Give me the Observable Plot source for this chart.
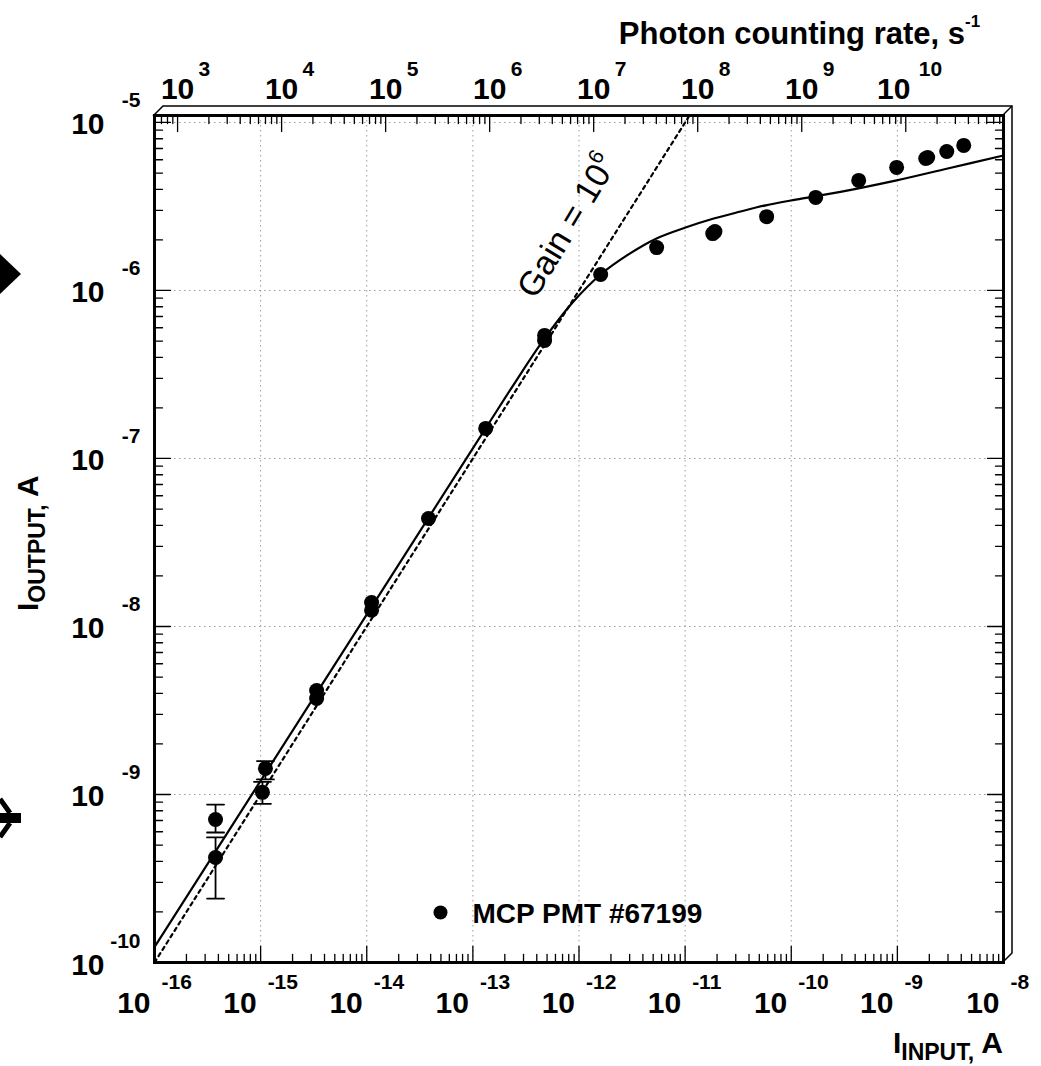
<!DOCTYPE html>
<html>
<head>
<meta charset="utf-8">
<script src="https://cdn.jsdelivr.net/npm/d3@7"></script>
<script src="https://cdn.jsdelivr.net/npm/@observablehq/plot@0.6"></script>
<style>
  html, body { margin: 0; padding: 0; background: #fff; }
  svg { display: block; }
</style>
</head>
<body>
<div id="chart"></div>
<script>
// ---------------- data ----------------
const inputCurrent  = [3.76e-16, 3.76e-16, 1.11e-15, 1.04e-15, 3.37e-15, 3.37e-15, 1.11e-14, 1.11e-14,
                       3.82e-14, 1.32e-13, 4.74e-13, 4.74e-13, 1.60e-12, 5.39e-12, 1.82e-11, 1.91e-11,
                       5.86e-11, 1.70e-10, 4.32e-10, 9.84e-10, 1.85e-9, 1.93e-9, 2.92e-9, 4.22e-9];
const outputCurrent = [7.1e-10, 4.22e-10, 1.43e-9, 1.03e-9, 4.16e-9, 3.73e-9, 1.39e-8, 1.25e-8,
                       4.39e-8, 1.51e-7, 5.4e-7, 5.04e-7, 1.245e-6, 1.80e-6, 2.18e-6, 2.24e-6,
                       2.75e-6, 3.58e-6, 4.52e-6, 5.4e-6, 6.1e-6, 6.19e-6, 6.72e-6, 7.3e-6];
const errorLow  = [5.94e-10, 2.40e-10, 1.23e-9, 8.8e-10];
const errorHigh = [8.71e-10, 5.55e-10, 1.58e-9, 1.19e-9];

const fitInput  = [1.02e-16, 3.67e-15, 1.318e-13, 2.53e-13, 4.74e-13, 8.70e-13, 1.60e-12, 2.93e-12,
                   5.38e-12, 1.01e-11, 1.86e-11, 3.33e-11, 5.74e-11, 9.87e-11, 1.66e-10, 4.42e-10,
                   9.84e-10, 2.98e-9, 1.0e-8];
const fitOutput = [1.26e-10, 4.37e-9, 1.51e-7, 2.87e-7, 5.18e-7, 8.48e-7, 1.245e-6, 1.64e-6,
                   2.04e-6, 2.37e-6, 2.68e-6, 2.95e-6, 3.21e-6, 3.43e-6, 3.63e-6, 4.07e-6,
                   4.52e-6, 5.32e-6, 6.36e-6];

const gainInput  = [1e-16, 1.1e-11];   // Gain = 10^6 reference line
const gainOutput = [1e-10, 1.1e-5];
const gainLabelAt = [7.7e-13, 2.42e-6];

const xExponents    = [-16, -15, -14, -13, -12, -11, -10, -9, -8];
const yExponents    = [-10, -9, -8, -7, -6, -5];
const rateExponents = [3, 4, 5, 6, 7, 8, 9, 10];
const rateDomain = [600, 8.7e10];      // photon counting rate spanned by the top axis, s^-1
const legendLabel = "MCP PMT #67199";

// ---------------- derived tables ----------------
const points = inputCurrent.map((x, i) => ({x, y: outputCurrent[i]}));
const errs = errorLow.map((lo, i) => ({x: inputCurrent[i], lo, hi: errorHigh[i]}));
const fit = fitInput.map((x, i) => ({x, y: fitOutput[i]}));
const gain = gainInput.map((x, i) => ({x, y: gainOutput[i]}));

const xDomain = [1e-16, 1e-8];
const yDomain = [1e-10, 1.1e-5];
const lg = Math.log10;
// secondary (top) axis: rate mapped onto the x scale's domain (log-linear)
const rateToX = r => 10 ** (lg(xDomain[0]) + (lg(r) - lg(rateDomain[0])) * (lg(xDomain[1]) - lg(xDomain[0])) / (lg(rateDomain[1]) - lg(rateDomain[0])));

function minorTicks(lo, hi) {
  const out = [];
  for (let d = Math.floor(lg(lo)); d <= Math.ceil(lg(hi)); d++)
    for (let m = 2; m <= 9; m++) { const v = m * 10 ** d; if (v >= lo && v <= hi) out.push(v); }
  return out;
}
const xMajor = xExponents.map(e => 10 ** e);
const yMajor = yExponents.map(e => 10 ** e);
const rateMajor = rateExponents.map(e => 10 ** e);
const xMinor = minorTicks(xDomain[0], xDomain[1]);
const yMinor = minorTicks(yDomain[0], yDomain[1]);
const rateMinor = minorTicks(rateDomain[0], rateDomain[1]);

const tickShape = {draw(ctx, l) { ctx.moveTo(0, 0); ctx.lineTo(0, -l); }};
const font = "'Liberation Sans', Arial, Helvetica, sans-serif";
const ticks = (data, o) => Plot.vector(data, {anchor: "start", shape: tickShape, stroke: "black", strokeWidth: 1.3, ...o});
const oneDigit = rateExponents.filter(e => e < 10);
const twoDigit = rateExponents.filter(e => e >= 10);

const plot = Plot.plot({
  width: 1041,
  height: 1066,
  marginLeft: 154,
  marginRight: 38,
  marginTop: 115,
  marginBottom: 104,
  style: {fontFamily: font, background: "white", color: "black"},
  x: {type: "log", domain: xDomain, axis: null},
  y: {type: "log", domain: yDomain, axis: null},
  marks: [
    // grid
    Plot.ruleX(xMajor.slice(1, -1), {stroke: "#9a9a9a", strokeWidth: 1, strokeDasharray: "1.5,3.5"}),
    Plot.ruleY(yMajor.slice(1), {stroke: "#9a9a9a", strokeWidth: 1, strokeDasharray: "1.5,3.5"}),
    // ticks (inside the frame)
    ticks(xMinor, {x: d => d, y: yDomain[0], rotate: 0, length: 8}),
    ticks(xMajor, {x: d => d, y: yDomain[0], rotate: 0, length: 16}),
    ticks(yMinor, {y: d => d, x: xDomain[0], rotate: 90, length: 8}),
    ticks(yMajor, {y: d => d, x: xDomain[0], rotate: 90, length: 16}),
    ticks(yMinor, {y: d => d, x: xDomain[1], rotate: -90, length: 8}),
    ticks(yMajor, {y: d => d, x: xDomain[1], rotate: -90, length: 16}),
    ticks(rateMinor, {x: rateToX, y: yDomain[1], rotate: 180, length: 8}),
    ticks(rateMajor, {x: rateToX, y: yDomain[1], rotate: 180, length: 16}),
    // reference line and fit
    Plot.line(gain, {x: "x", y: "y", stroke: "black", strokeWidth: 2.2, strokeDasharray: "3.5,4"}),
    Plot.line(fit, {x: "x", y: "y", curve: "catmull-rom", stroke: "black", strokeWidth: 2.2}),
    // error bars
    Plot.link(errs, {x1: "x", x2: "x", y1: "lo", y2: "hi", stroke: "black", strokeWidth: 1.8}),
    Plot.vector(errs, {x: "x", y: "lo", rotate: 90, length: 17, anchor: "middle", shape: tickShape, stroke: "black", strokeWidth: 1.8}),
    Plot.vector(errs, {x: "x", y: "hi", rotate: 90, length: 17, anchor: "middle", shape: tickShape, stroke: "black", strokeWidth: 1.8}),
    // data points
    Plot.dot(points, {x: "x", y: "y", r: 7.5, fill: "black", stroke: "none"}),
    // frame
    Plot.frame({stroke: "black", strokeWidth: 3}),
    // bottom axis labels
    Plot.text(xMajor, {x: d => d, y: yDomain[0], text: () => "10", textAnchor: "end", lineAnchor: "bottom", dx: -4, dy: 50, fontSize: 30, fontWeight: "bold"}),
    Plot.text(xExponents, {x: d => 10 ** d, y: yDomain[0], text: d => String(d), textAnchor: "start", lineAnchor: "bottom", dx: 7, dy: 26, fontSize: 21, fontWeight: "bold"}),
    // left axis labels
    Plot.text(yMajor, {y: d => d, x: xDomain[0], text: () => "10", textAnchor: "end", lineAnchor: "bottom", dx: -50, dy: 12, fontSize: 30, fontWeight: "bold"}),
    Plot.text(yExponents, {y: d => 10 ** d, x: xDomain[0], text: d => String(d), textAnchor: "end", lineAnchor: "bottom", dx: -14, dy: -15, fontSize: 21, fontWeight: "bold"}),
    // top axis labels (photon counting rate)
    Plot.text(oneDigit, {x: e => rateToX(10 ** e), y: yDomain[1], text: () => "10", textAnchor: "middle", lineAnchor: "bottom", dx: 0, dy: -17, fontSize: 30, fontWeight: "bold"}),
    Plot.text(oneDigit, {x: e => rateToX(10 ** e), y: yDomain[1], text: e => String(e), textAnchor: "start", lineAnchor: "bottom", dx: 21, dy: -40, fontSize: 21, fontWeight: "bold"}),
    Plot.text(twoDigit, {x: e => rateToX(10 ** e), y: yDomain[1], text: () => "10", textAnchor: "middle", lineAnchor: "bottom", dx: -12, dy: -17, fontSize: 30, fontWeight: "bold"}),
    Plot.text(twoDigit, {x: e => rateToX(10 ** e), y: yDomain[1], text: e => String(e), textAnchor: "start", lineAnchor: "bottom", dx: 13, dy: -40, fontSize: 21, fontWeight: "bold"}),
    // legend
    Plot.dot([legendLabel], {frameAnchor: "bottom-left", dx: 286, dy: -50, r: 7, fill: "black", stroke: "none"}),
    Plot.text([legendLabel], {frameAnchor: "bottom-left", text: d => d, dx: 318, dy: -40, textAnchor: "start", lineAnchor: "bottom", fontSize: 28, fontWeight: "bold"})
  ]
});

// ------------- extra decorations: bevel, axis titles, annotation -------------
const svg = d3.select(plot);
const sx = plot.scale("x"), sy = plot.scale("y");
const L = sx.apply(xDomain[0]), R = sx.apply(xDomain[1]);
const B = sy.apply(yDomain[0]), T = sy.apply(yDomain[1]);
const bev = 9;
svg.insert("path", ":first-child")
  .attr("d", `M${L},${T} L${L + bev},${T - bev} L${R + bev},${T - bev} L${R + bev},${B - bev} L${R},${B} L${R},${T} Z`)
  .attr("fill", "white").attr("stroke", "black").attr("stroke-width", 1.5);
svg.append("path").attr("d", `M${R},${T} L${R + bev},${T - bev}`).attr("stroke", "black").attr("stroke-width", 1.5);

// top axis title
svg.append("text").attr("x", 965).attr("y", 44).attr("text-anchor", "end")
  .attr("font-family", font).attr("font-weight", "bold").attr("font-size", 31)
  .text("Photon counting rate, s");
svg.append("text").attr("x", 965).attr("y", 27).attr("text-anchor", "start")
  .attr("font-family", font).attr("font-weight", "bold").attr("font-size", 17)
  .text("-1");

// bottom axis title
const bt = svg.append("text").attr("x", R).attr("y", 1053).attr("text-anchor", "end")
  .attr("font-family", font).attr("font-weight", "bold").attr("font-size", 30);
bt.append("tspan").text("I");
bt.append("tspan").attr("font-size", 23).attr("dy", 7).text("INPUT,");
bt.append("tspan").attr("dy", -7).text(" A");

// left axis title
const lt = svg.append("text").attr("transform", "translate(38,611) rotate(-90)")
  .attr("text-anchor", "start")
  .attr("font-family", font).attr("font-weight", "bold").attr("font-size", 30);
lt.append("tspan").text("I");
lt.append("tspan").attr("font-size", 23).attr("dy", 7).text("OUTPUT,");
lt.append("tspan").attr("dy", -7).text(" A");

// Gain = 10^6 annotation along the dashed line
const gx = sx.apply(gainLabelAt[0]), gy = sy.apply(gainLabelAt[1]);
const gt = svg.append("text").attr("transform", `translate(${gx},${gy}) rotate(-59)`)
  .attr("text-anchor", "middle").attr("y", 12)
  .attr("font-family", font).attr("font-size", 34);
gt.append("tspan").text("Gain = 10");
gt.append("tspan").attr("font-size", 21).attr("dy", -15).text("6");

// slide artifacts at left edge
svg.append("path").attr("d", "M0,254 L21,274 L0,294 Z").attr("fill", "black");
svg.append("rect").attr("x", 0).attr("y", 813).attr("width", 21).attr("height", 10).attr("fill", "black");
svg.append("path").attr("d", "M0,799 L10,813 M0,837 L10,823").attr("stroke", "black").attr("stroke-width", 5);

document.getElementById("chart").appendChild(plot);
</script>
</body>
</html>
